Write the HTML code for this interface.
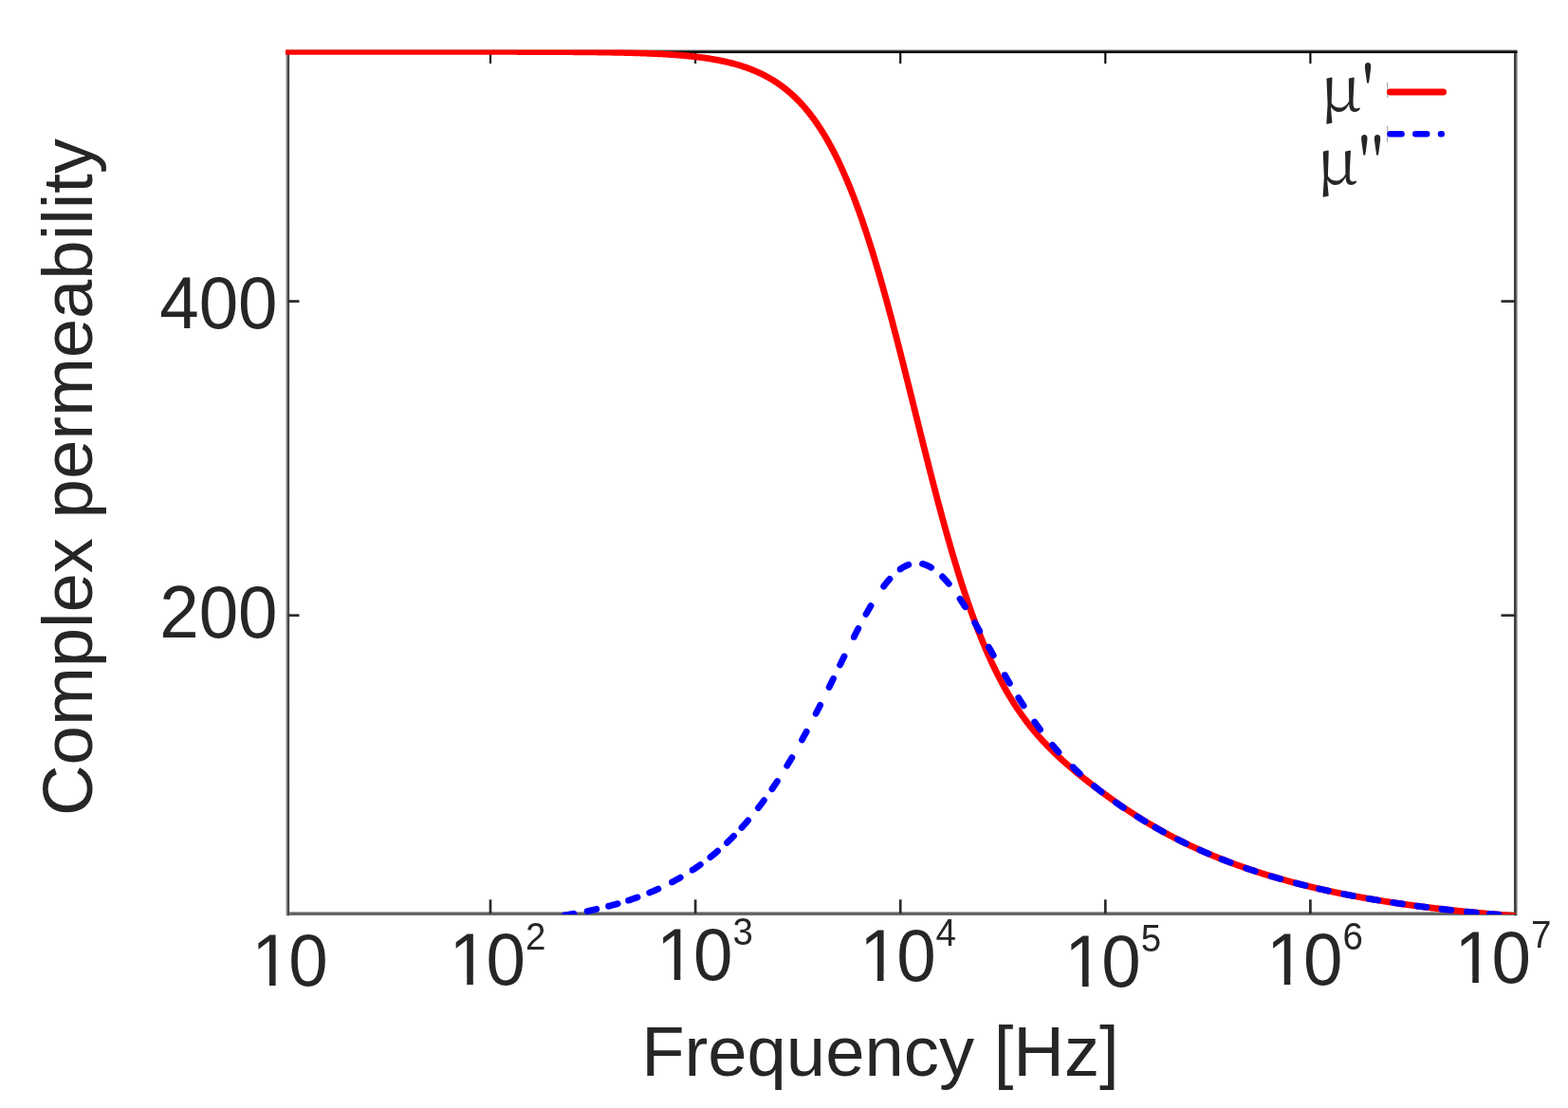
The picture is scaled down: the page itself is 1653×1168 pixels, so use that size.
<!DOCTYPE html>
<html><head><meta charset="utf-8"><title>Complex permeability vs frequency</title>
<style>
html,body{margin:0;padding:0;background:#fff;overflow:hidden;width:1653px;height:1168px;}
svg{display:block;}
</style></head>
<body>
<svg width="1653" height="1168" viewBox="0 0 1653 1168">
<rect x="0" y="0" width="1653" height="1168" fill="#fff"/>
<defs><clipPath id="cp"><rect x="301" y="52.4" width="1298" height="911.6"/></clipPath></defs>
<!-- axes box -->
<defs>
<linearGradient id="gl" x1="0" y1="0" x2="1" y2="0"><stop offset="0" stop-color="#f2f2f2"/><stop offset="0.2" stop-color="#c4c4c4"/><stop offset="0.38" stop-color="#8a8a8a"/><stop offset="0.52" stop-color="#5a5a5a"/><stop offset="0.68" stop-color="#444"/><stop offset="0.9" stop-color="#424242"/><stop offset="1" stop-color="#b0b0b0"/></linearGradient>
<linearGradient id="gr" x1="0" y1="0" x2="1" y2="0"><stop offset="0" stop-color="#d0d0d0"/><stop offset="0.1" stop-color="#555"/><stop offset="0.2" stop-color="#333"/><stop offset="0.35" stop-color="#333"/><stop offset="0.5" stop-color="#575757"/><stop offset="0.68" stop-color="#707070"/><stop offset="0.82" stop-color="#a0a0a0"/><stop offset="1" stop-color="#f0f0f0"/></linearGradient>
<linearGradient id="gb" x1="0" y1="0" x2="0" y2="1"><stop offset="0" stop-color="#f0f0f0"/><stop offset="0.15" stop-color="#ababab"/><stop offset="0.35" stop-color="#6a6a6a"/><stop offset="0.5" stop-color="#585858"/><stop offset="0.7" stop-color="#5e5e5e"/><stop offset="0.85" stop-color="#7a7a7a"/><stop offset="1" stop-color="#eeeeee"/></linearGradient>
<linearGradient id="gt" x1="0" y1="0" x2="0" y2="1"><stop offset="0" stop-color="#f0f0f0"/><stop offset="0.2" stop-color="#c0c0c0"/><stop offset="0.4" stop-color="#505050"/><stop offset="0.52" stop-color="#0a0a0a"/><stop offset="0.88" stop-color="#0a0a0a"/><stop offset="1" stop-color="#707070"/></linearGradient>
</defs>
<rect x="302.2" y="960.7" width="1296.5" height="4.6" fill="url(#gb)"/>
<rect x="300.7" y="53.2" width="4.6" height="912.1" fill="url(#gl)"/>
<rect x="1595.8" y="53.2" width="4.3" height="912.1" fill="url(#gr)"/>
<rect x="301.5" y="51.6" width="1298" height="4.6" fill="url(#gt)"/>
<g stroke="#2a2a2a" stroke-width="2.7" fill="none">
<line x1="517.0" y1="963" x2="517.0" y2="948.3" />
<line x1="517.0" y1="55" x2="517.0" y2="67" stroke="#050505" stroke-width="2.1"/>
<line x1="733.1" y1="963" x2="733.1" y2="948.3" />
<line x1="733.1" y1="55" x2="733.1" y2="67" stroke="#050505" stroke-width="2.1"/>
<line x1="949.2" y1="963" x2="949.2" y2="948.3" />
<line x1="949.2" y1="55" x2="949.2" y2="67" stroke="#050505" stroke-width="2.1"/>
<line x1="1165.3" y1="963" x2="1165.3" y2="948.3" />
<line x1="1165.3" y1="55" x2="1165.3" y2="67" stroke="#050505" stroke-width="2.1"/>
<line x1="1381.4" y1="963" x2="1381.4" y2="948.3" />
<line x1="1381.4" y1="55" x2="1381.4" y2="67" stroke="#050505" stroke-width="2.1"/>
<line x1="303.5" y1="317.6" x2="315.5" y2="317.6" />
<line x1="1597.5" y1="317.6" x2="1582.5" y2="317.6" />
<line x1="303.5" y1="648.7" x2="315.5" y2="648.7" />
<line x1="1597.5" y1="648.7" x2="1582.5" y2="648.7" />
</g>
<!-- data -->
<g clip-path="url(#cp)" fill="none" stroke-linejoin="round">
<path d="M300.90,54.38 L301.76,54.38 L302.63,54.38 L303.49,54.38 L304.36,54.38 L305.22,54.38 L306.09,54.38 L306.95,54.38 L307.82,54.38 L308.68,54.38 L309.55,54.38 L310.41,54.38 L311.28,54.38 L312.14,54.38 L313.01,54.38 L313.87,54.38 L314.74,54.38 L315.60,54.38 L316.47,54.38 L317.33,54.38 L318.20,54.38 L319.06,54.38 L319.93,54.38 L320.79,54.38 L321.66,54.38 L322.52,54.38 L323.39,54.38 L324.25,54.38 L325.12,54.38 L325.98,54.38 L326.85,54.38 L327.71,54.38 L328.58,54.38 L329.44,54.38 L330.31,54.38 L331.17,54.38 L332.04,54.38 L332.90,54.38 L333.77,54.38 L334.63,54.38 L335.50,54.38 L336.36,54.38 L337.23,54.38 L338.09,54.38 L338.96,54.38 L339.82,54.38 L340.69,54.38 L341.55,54.38 L342.42,54.38 L343.28,54.38 L344.15,54.38 L345.01,54.38 L345.88,54.38 L346.74,54.38 L347.61,54.38 L348.47,54.38 L349.34,54.38 L350.20,54.38 L351.07,54.38 L351.93,54.38 L352.80,54.38 L353.66,54.38 L354.53,54.38 L355.39,54.38 L356.26,54.38 L357.12,54.38 L357.99,54.38 L358.85,54.38 L359.72,54.38 L360.58,54.38 L361.45,54.38 L362.31,54.38 L363.18,54.38 L364.04,54.38 L364.91,54.38 L365.77,54.38 L366.64,54.38 L367.50,54.38 L368.37,54.38 L369.23,54.38 L370.10,54.38 L370.96,54.38 L371.83,54.38 L372.69,54.38 L373.56,54.38 L374.42,54.38 L375.29,54.38 L376.15,54.38 L377.02,54.38 L377.88,54.38 L378.75,54.38 L379.61,54.38 L380.48,54.38 L381.34,54.38 L382.21,54.38 L383.07,54.38 L383.94,54.38 L384.80,54.38 L385.67,54.38 L386.53,54.38 L387.40,54.38 L388.26,54.38 L389.13,54.38 L389.99,54.38 L390.86,54.38 L391.72,54.38 L392.59,54.38 L393.45,54.38 L394.32,54.38 L395.18,54.38 L396.05,54.38 L396.91,54.38 L397.78,54.38 L398.64,54.38 L399.51,54.38 L400.37,54.38 L401.24,54.38 L402.10,54.38 L402.97,54.38 L403.83,54.38 L404.70,54.38 L405.56,54.38 L406.43,54.38 L407.29,54.38 L408.16,54.38 L409.02,54.38 L409.89,54.38 L410.75,54.38 L411.62,54.38 L412.48,54.38 L413.35,54.38 L414.21,54.38 L415.08,54.38 L415.94,54.38 L416.81,54.38 L417.67,54.38 L418.54,54.38 L419.40,54.38 L420.27,54.38 L421.13,54.38 L422.00,54.38 L422.86,54.38 L423.73,54.38 L424.59,54.38 L425.46,54.38 L426.32,54.38 L427.19,54.38 L428.05,54.38 L428.92,54.38 L429.78,54.38 L430.65,54.38 L431.51,54.38 L432.38,54.38 L433.24,54.38 L434.11,54.38 L434.97,54.39 L435.84,54.39 L436.70,54.39 L437.57,54.39 L438.43,54.39 L439.30,54.39 L440.16,54.39 L441.03,54.39 L441.89,54.39 L442.76,54.39 L443.62,54.39 L444.49,54.39 L445.35,54.39 L446.22,54.39 L447.08,54.39 L447.95,54.39 L448.81,54.39 L449.68,54.39 L450.54,54.39 L451.41,54.39 L452.27,54.39 L453.14,54.39 L454.00,54.39 L454.87,54.39 L455.73,54.39 L456.60,54.39 L457.46,54.39 L458.33,54.39 L459.19,54.39 L460.06,54.39 L460.92,54.39 L461.79,54.39 L462.65,54.39 L463.52,54.39 L464.38,54.39 L465.25,54.39 L466.11,54.39 L466.98,54.39 L467.84,54.39 L468.71,54.40 L469.57,54.40 L470.44,54.40 L471.30,54.40 L472.17,54.40 L473.03,54.40 L473.90,54.40 L474.76,54.40 L475.63,54.40 L476.49,54.40 L477.36,54.40 L478.22,54.40 L479.09,54.40 L479.95,54.40 L480.82,54.40 L481.68,54.40 L482.55,54.40 L483.41,54.40 L484.28,54.40 L485.14,54.40 L486.01,54.40 L486.87,54.40 L487.73,54.40 L488.60,54.41 L489.46,54.41 L490.33,54.41 L491.19,54.41 L492.06,54.41 L492.92,54.41 L493.79,54.41 L494.65,54.41 L495.52,54.41 L496.38,54.41 L497.25,54.41 L498.11,54.41 L498.98,54.41 L499.84,54.41 L500.71,54.41 L501.57,54.42 L502.44,54.42 L503.30,54.42 L504.17,54.42 L505.03,54.42 L505.90,54.42 L506.76,54.42 L507.63,54.42 L508.49,54.42 L509.36,54.42 L510.22,54.42 L511.09,54.42 L511.95,54.42 L512.82,54.43 L513.68,54.43 L514.55,54.43 L515.41,54.43 L516.28,54.43 L517.14,54.43 L518.01,54.43 L518.87,54.43 L519.74,54.43 L520.60,54.43 L521.47,54.44 L522.33,54.44 L523.20,54.44 L524.06,54.44 L524.93,54.44 L525.79,54.44 L526.66,54.44 L527.52,54.44 L528.39,54.45 L529.25,54.45 L530.12,54.45 L530.98,54.45 L531.85,54.45 L532.71,54.45 L533.58,54.45 L534.44,54.46 L535.31,54.46 L536.17,54.46 L537.04,54.46 L537.90,54.46 L538.77,54.46 L539.63,54.46 L540.50,54.47 L541.36,54.47 L542.23,54.47 L543.09,54.47 L543.96,54.47 L544.82,54.47 L545.69,54.48 L546.55,54.48 L547.42,54.48 L548.28,54.48 L549.15,54.48 L550.01,54.49 L550.88,54.49 L551.74,54.49 L552.61,54.49 L553.47,54.50 L554.34,54.50 L555.20,54.50 L556.07,54.50 L556.93,54.50 L557.80,54.51 L558.66,54.51 L559.53,54.51 L560.39,54.51 L561.26,54.52 L562.12,54.52 L562.99,54.52 L563.85,54.52 L564.72,54.53 L565.58,54.53 L566.45,54.53 L567.31,54.54 L568.18,54.54 L569.04,54.54 L569.91,54.55 L570.77,54.55 L571.64,54.55 L572.50,54.55 L573.37,54.56 L574.23,54.56 L575.10,54.57 L575.96,54.57 L576.83,54.57 L577.69,54.58 L578.56,54.58 L579.42,54.58 L580.29,54.59 L581.15,54.59 L582.02,54.60 L582.88,54.60 L583.75,54.60 L584.61,54.61 L585.48,54.61 L586.34,54.62 L587.21,54.62 L588.07,54.63 L588.94,54.63 L589.80,54.63 L590.67,54.64 L591.53,54.64 L592.40,54.65 L593.26,54.65 L594.13,54.66 L594.99,54.67 L595.86,54.67 L596.72,54.68 L597.59,54.68 L598.45,54.69 L599.32,54.69 L600.18,54.70 L601.05,54.70 L601.91,54.71 L602.78,54.72 L603.64,54.72 L604.51,54.73 L605.37,54.74 L606.24,54.74 L607.10,54.75 L607.97,54.76 L608.83,54.76 L609.70,54.77 L610.56,54.78 L611.43,54.79 L612.29,54.79 L613.16,54.80 L614.02,54.81 L614.89,54.82 L615.75,54.83 L616.62,54.83 L617.48,54.84 L618.35,54.85 L619.21,54.86 L620.08,54.87 L620.94,54.88 L621.81,54.89 L622.67,54.90 L623.54,54.91 L624.40,54.92 L625.27,54.93 L626.13,54.94 L627.00,54.95 L627.86,54.96 L628.73,54.97 L629.59,54.98 L630.46,54.99 L631.32,55.00 L632.19,55.02 L633.05,55.03 L633.92,55.04 L634.78,55.05 L635.65,55.06 L636.51,55.08 L637.38,55.09 L638.24,55.10 L639.11,55.12 L639.97,55.13 L640.84,55.14 L641.70,55.16 L642.57,55.17 L643.43,55.19 L644.30,55.20 L645.16,55.22 L646.03,55.23 L646.89,55.25 L647.76,55.27 L648.62,55.28 L649.49,55.30 L650.35,55.32 L651.22,55.33 L652.08,55.35 L652.95,55.37 L653.81,55.39 L654.68,55.41 L655.54,55.43 L656.41,55.45 L657.27,55.47 L658.14,55.49 L659.00,55.51 L659.87,55.53 L660.73,55.55 L661.60,55.57 L662.46,55.59 L663.33,55.62 L664.19,55.64 L665.06,55.66 L665.92,55.69 L666.79,55.71 L667.65,55.74 L668.52,55.76 L669.38,55.79 L670.25,55.81 L671.11,55.84 L671.97,55.87 L672.84,55.89 L673.70,55.92 L674.57,55.95 L675.43,55.98 L676.30,56.01 L677.16,56.04 L678.03,56.07 L678.89,56.10 L679.76,56.14 L680.62,56.17 L681.49,56.20 L682.35,56.24 L683.22,56.27 L684.08,56.30 L684.95,56.34 L685.81,56.38 L686.68,56.41 L687.54,56.45 L688.41,56.49 L689.27,56.53 L690.14,56.57 L691.00,56.61 L691.87,56.65 L692.73,56.69 L693.60,56.74 L694.46,56.78 L695.33,56.83 L696.19,56.87 L697.06,56.92 L697.92,56.96 L698.79,57.01 L699.65,57.06 L700.52,57.11 L701.38,57.16 L702.25,57.21 L703.11,57.27 L703.98,57.32 L704.84,57.37 L705.71,57.43 L706.57,57.49 L707.44,57.54 L708.30,57.60 L709.17,57.66 L710.03,57.72 L710.90,57.79 L711.76,57.85 L712.63,57.91 L713.49,57.98 L714.36,58.05 L715.22,58.11 L716.09,58.18 L716.95,58.25 L717.82,58.32 L718.68,58.40 L719.55,58.47 L720.41,58.55 L721.28,58.62 L722.14,58.70 L723.01,58.78 L723.87,58.86 L724.74,58.95 L725.60,59.03 L726.47,59.12 L727.33,59.21 L728.20,59.30 L729.06,59.39 L729.93,59.48 L730.79,59.57 L731.66,59.67 L732.52,59.77 L733.39,59.87 L734.25,59.97 L735.12,60.07 L735.98,60.18 L736.85,60.28 L737.71,60.39 L738.58,60.50 L739.44,60.62 L740.31,60.73 L741.17,60.85 L742.04,60.97 L742.90,61.09 L743.77,61.21 L744.63,61.34 L745.50,61.47 L746.36,61.60 L747.23,61.73 L748.09,61.87 L748.96,62.01 L749.82,62.15 L750.69,62.29 L751.55,62.43 L752.42,62.58 L753.28,62.73 L754.15,62.89 L755.01,63.04 L755.88,63.20 L756.74,63.37 L757.61,63.53 L758.47,63.70 L759.34,63.87 L760.20,64.04 L761.07,64.22 L761.93,64.40 L762.80,64.59 L763.66,64.77 L764.53,64.97 L765.39,65.16 L766.26,65.36 L767.12,65.56 L767.99,65.76 L768.85,65.97 L769.72,66.18 L770.58,66.40 L771.45,66.62 L772.31,66.84 L773.18,67.07 L774.04,67.30 L774.91,67.54 L775.77,67.78 L776.64,68.03 L777.50,68.28 L778.37,68.53 L779.23,68.79 L780.10,69.05 L780.96,69.32 L781.83,69.59 L782.69,69.87 L783.56,70.15 L784.42,70.44 L785.29,70.73 L786.15,71.03 L787.02,71.33 L787.88,71.64 L788.75,71.95 L789.61,72.27 L790.48,72.60 L791.34,72.93 L792.21,73.26 L793.07,73.61 L793.94,73.95 L794.80,74.31 L795.67,74.67 L796.53,75.04 L797.40,75.41 L798.26,75.79 L799.13,76.18 L799.99,76.57 L800.86,76.97 L801.72,77.38 L802.59,77.79 L803.45,78.22 L804.32,78.64 L805.18,79.08 L806.05,79.53 L806.91,79.98 L807.78,80.44 L808.64,80.90 L809.51,81.38 L810.37,81.86 L811.24,82.36 L812.10,82.86 L812.97,83.37 L813.83,83.89 L814.70,84.41 L815.56,84.95 L816.43,85.49 L817.29,86.05 L818.16,86.61 L819.02,87.19 L819.89,87.77 L820.75,88.36 L821.62,88.97 L822.48,89.58 L823.35,90.20 L824.21,90.84 L825.08,91.48 L825.94,92.14 L826.81,92.80 L827.67,93.48 L828.54,94.17 L829.40,94.87 L830.27,95.58 L831.13,96.31 L832.00,97.04 L832.86,97.79 L833.73,98.55 L834.59,99.32 L835.46,100.11 L836.32,100.91 L837.19,101.72 L838.05,102.54 L838.92,103.38 L839.78,104.23 L840.65,105.10 L841.51,105.98 L842.38,106.87 L843.24,107.78 L844.11,108.70 L844.97,109.64 L845.84,110.59 L846.70,111.55 L847.57,112.53 L848.43,113.53 L849.30,114.54 L850.16,115.57 L851.03,116.62 L851.89,117.68 L852.76,118.75 L853.62,119.85 L854.49,120.96 L855.35,122.08 L856.22,123.23 L857.08,124.39 L857.94,125.57 L858.81,126.77 L859.67,127.98 L860.54,129.22 L861.40,130.47 L862.27,131.74 L863.13,133.03 L864.00,134.33 L864.86,135.66 L865.73,137.01 L866.59,138.37 L867.46,139.76 L868.32,141.16 L869.19,142.59 L870.05,144.03 L870.92,145.50 L871.78,146.99 L872.65,148.49 L873.51,150.02 L874.38,151.57 L875.24,153.14 L876.11,154.74 L876.97,156.35 L877.84,157.99 L878.70,159.64 L879.57,161.32 L880.43,163.03 L881.30,164.75 L882.16,166.50 L883.03,168.27 L883.89,170.06 L884.76,171.88 L885.62,173.72 L886.49,175.58 L887.35,177.47 L888.22,179.38 L889.08,181.31 L889.95,183.27 L890.81,185.25 L891.68,187.25 L892.54,189.28 L893.41,191.33 L894.27,193.41 L895.14,195.51 L896.00,197.64 L896.87,199.79 L897.73,201.96 L898.60,204.16 L899.46,206.39 L900.33,208.64 L901.19,210.91 L902.06,213.21 L902.92,215.53 L903.79,217.88 L904.65,220.25 L905.52,222.64 L906.38,225.07 L907.25,227.51 L908.11,229.98 L908.98,232.47 L909.84,234.99 L910.71,237.54 L911.57,240.10 L912.44,242.69 L913.30,245.31 L914.17,247.95 L915.03,250.61 L915.90,253.30 L916.76,256.01 L917.63,258.74 L918.49,261.50 L919.36,264.28 L920.22,267.08 L921.09,269.90 L921.95,272.75 L922.82,275.62 L923.68,278.51 L924.55,281.42 L925.41,284.36 L926.28,287.31 L927.14,290.29 L928.01,293.29 L928.87,296.30 L929.74,299.34 L930.60,302.40 L931.47,305.47 L932.33,308.57 L933.20,311.68 L934.06,314.81 L934.93,317.96 L935.79,321.13 L936.66,324.32 L937.52,327.52 L938.39,330.74 L939.25,333.97 L940.12,337.22 L940.98,340.48 L941.85,343.76 L942.71,347.05 L943.58,350.36 L944.44,353.68 L945.31,357.01 L946.17,360.36 L947.04,363.71 L947.90,367.08 L948.77,370.46 L949.63,373.85 L950.50,377.24 L951.36,380.65 L952.23,384.07 L953.09,387.49 L953.96,390.92 L954.82,394.36 L955.69,397.80 L956.55,401.25 L957.42,404.71 L958.28,408.17 L959.15,411.63 L960.01,415.10 L960.88,418.57 L961.74,422.04 L962.61,425.52 L963.47,428.99 L964.34,432.47 L965.20,435.95 L966.07,439.42 L966.93,442.90 L967.80,446.37 L968.66,449.84 L969.53,453.31 L970.39,456.77 L971.26,460.23 L972.12,463.69 L972.99,467.14 L973.85,470.58 L974.72,474.02 L975.58,477.45 L976.45,480.88 L977.31,484.29 L978.18,487.70 L979.04,491.10 L979.91,494.49 L980.77,497.87 L981.64,501.24 L982.50,504.60 L983.37,507.95 L984.23,511.28 L985.10,514.60 L985.96,517.91 L986.83,521.21 L987.69,524.49 L988.56,527.76 L989.42,531.01 L990.29,534.25 L991.15,537.47 L992.02,540.68 L992.88,543.87 L993.75,547.04 L994.61,550.19 L995.48,553.33 L996.34,556.45 L997.21,559.56 L998.07,562.64 L998.94,565.71 L999.80,568.75 L1000.67,571.78 L1001.53,574.78 L1002.40,577.77 L1003.26,580.74 L1004.13,583.68 L1004.99,586.61 L1005.86,589.51 L1006.72,592.40 L1007.59,595.26 L1008.45,598.10 L1009.32,600.91 L1010.18,603.71 L1011.05,606.48 L1011.91,609.24 L1012.78,611.96 L1013.64,614.67 L1014.51,617.35 L1015.37,620.02 L1016.24,622.65 L1017.10,625.27 L1017.97,627.86 L1018.83,630.43 L1019.70,632.97 L1020.56,635.50 L1021.43,637.99 L1022.29,640.47 L1023.16,642.92 L1024.02,645.35 L1024.89,647.76 L1025.75,650.14 L1026.62,652.50 L1027.48,654.83 L1028.35,657.14 L1029.21,659.43 L1030.08,661.70 L1030.94,663.94 L1031.81,666.16 L1032.67,668.36 L1033.54,670.53 L1034.40,672.68 L1035.27,674.81 L1036.13,676.91 L1037.00,678.99 L1037.86,681.05 L1038.73,683.09 L1039.59,685.11 L1040.46,687.10 L1041.32,689.07 L1042.18,691.02 L1043.05,692.95 L1043.91,694.85 L1044.78,696.74 L1045.64,698.60 L1046.51,700.44 L1047.37,702.27 L1048.24,704.07 L1049.10,705.85 L1049.97,707.61 L1050.83,709.35 L1051.70,711.07 L1052.56,712.77 L1053.43,714.45 L1054.29,716.11 L1055.16,717.75 L1056.02,719.37 L1056.89,720.97 L1057.75,722.56 L1058.62,724.13 L1059.48,725.67 L1060.35,727.21 L1061.21,728.72 L1062.08,730.21 L1062.94,731.69 L1063.81,733.15 L1064.67,734.59 L1065.54,736.02 L1066.40,737.43 L1067.27,738.83 L1068.13,740.20 L1069.00,741.57 L1069.86,742.91 L1070.73,744.24 L1071.59,745.56 L1072.46,746.86 L1073.32,748.15 L1074.19,749.42 L1075.05,750.68 L1075.92,751.92 L1076.78,753.15 L1077.65,754.36 L1078.51,755.57 L1079.38,756.76 L1080.24,757.93 L1081.11,759.09 L1081.97,760.25 L1082.84,761.38 L1083.70,762.51 L1084.57,763.62 L1085.43,764.73 L1086.30,765.82 L1087.16,766.90 L1088.03,767.97 L1088.89,769.02 L1089.76,770.07 L1090.62,771.11 L1091.49,772.13 L1092.35,773.15 L1093.22,774.16 L1094.08,775.15 L1094.95,776.14 L1095.81,777.12 L1096.68,778.08 L1097.54,779.04 L1098.41,780.00 L1099.27,780.94 L1100.14,781.87 L1101.00,782.80 L1101.87,783.71 L1102.73,784.62 L1103.60,785.52 L1104.46,786.42 L1105.33,787.31 L1106.19,788.19 L1107.06,789.06 L1107.92,789.92 L1108.79,790.78 L1109.65,791.63 L1110.52,792.48 L1111.38,793.32 L1112.25,794.15 L1113.11,794.98 L1113.98,795.80 L1114.84,796.62 L1115.71,797.43 L1116.57,798.23 L1117.44,799.03 L1118.30,799.83 L1119.17,800.61 L1120.03,801.40 L1120.90,802.18 L1121.76,802.95 L1122.63,803.72 L1123.49,804.49 L1124.36,805.25 L1125.22,806.01 L1126.09,806.76 L1126.95,807.51 L1127.82,808.25 L1128.68,808.99 L1129.55,809.73 L1130.41,810.46 L1131.28,811.19 L1132.14,811.92 L1133.01,812.64 L1133.87,813.36 L1134.74,814.08 L1135.60,814.79 L1136.47,815.50 L1137.33,816.20 L1138.20,816.91 L1139.06,817.61 L1139.93,818.31 L1140.79,819.00 L1141.66,819.69 L1142.52,820.38 L1143.39,821.07 L1144.25,821.75 L1145.12,822.44 L1145.98,823.11 L1146.85,823.79 L1147.71,824.47 L1148.58,825.14 L1149.44,825.81 L1150.31,826.47 L1151.17,827.14 L1152.04,827.80 L1152.90,828.46 L1153.77,829.12 L1154.63,829.78 L1155.50,830.43 L1156.36,831.08 L1157.23,831.73 L1158.09,832.38 L1158.96,833.03 L1159.82,833.67 L1160.69,834.31 L1161.55,834.95 L1162.42,835.59 L1163.28,836.22 L1164.15,836.86 L1165.01,837.49 L1165.88,838.12 L1166.74,838.75 L1167.61,839.37 L1168.47,839.99 L1169.34,840.62 L1170.20,841.24 L1171.07,841.85 L1171.93,842.47 L1172.80,843.08 L1173.66,843.69 L1174.53,844.30 L1175.39,844.91 L1176.26,845.52 L1177.12,846.12 L1177.99,846.72 L1178.85,847.32 L1179.72,847.92 L1180.58,848.51 L1181.45,849.11 L1182.31,849.70 L1183.18,850.29 L1184.04,850.87 L1184.91,851.46 L1185.77,852.04 L1186.64,852.62 L1187.50,853.20 L1188.37,853.78 L1189.23,854.35 L1190.10,854.92 L1190.96,855.49 L1191.83,856.06 L1192.69,856.63 L1193.56,857.19 L1194.42,857.75 L1195.29,858.31 L1196.15,858.87 L1197.02,859.42 L1197.88,859.97 L1198.75,860.52 L1199.61,861.07 L1200.48,861.62 L1201.34,862.16 L1202.21,862.70 L1203.07,863.24 L1203.94,863.78 L1204.80,864.31 L1205.67,864.84 L1206.53,865.37 L1207.40,865.90 L1208.26,866.43 L1209.13,866.95 L1209.99,867.47 L1210.86,867.99 L1211.72,868.50 L1212.59,869.02 L1213.45,869.53 L1214.32,870.04 L1215.18,870.54 L1216.05,871.05 L1216.91,871.55 L1217.78,872.05 L1218.64,872.55 L1219.51,873.04 L1220.37,873.54 L1221.24,874.03 L1222.10,874.52 L1222.97,875.00 L1223.83,875.49 L1224.70,875.97 L1225.56,876.45 L1226.43,876.92 L1227.29,877.40 L1228.15,877.87 L1229.02,878.34 L1229.88,878.81 L1230.75,879.28 L1231.61,879.74 L1232.48,880.20 L1233.34,880.66 L1234.21,881.12 L1235.07,881.57 L1235.94,882.03 L1236.80,882.48 L1237.67,882.93 L1238.53,883.37 L1239.40,883.82 L1240.26,884.26 L1241.13,884.70 L1241.99,885.14 L1242.86,885.57 L1243.72,886.01 L1244.59,886.44 L1245.45,886.87 L1246.32,887.30 L1247.18,887.72 L1248.05,888.15 L1248.91,888.57 L1249.78,888.99 L1250.64,889.41 L1251.51,889.82 L1252.37,890.24 L1253.24,890.65 L1254.10,891.06 L1254.97,891.47 L1255.83,891.87 L1256.70,892.28 L1257.56,892.68 L1258.43,893.08 L1259.29,893.48 L1260.16,893.88 L1261.02,894.27 L1261.89,894.67 L1262.75,895.06 L1263.62,895.45 L1264.48,895.83 L1265.35,896.22 L1266.21,896.60 L1267.08,896.99 L1267.94,897.37 L1268.81,897.75 L1269.67,898.12 L1270.54,898.50 L1271.40,898.87 L1272.27,899.25 L1273.13,899.62 L1274.00,899.98 L1274.86,900.35 L1275.73,900.72 L1276.59,901.08 L1277.46,901.44 L1278.32,901.80 L1279.19,902.16 L1280.05,902.52 L1280.92,902.87 L1281.78,903.23 L1282.65,903.58 L1283.51,903.93 L1284.38,904.28 L1285.24,904.62 L1286.11,904.97 L1286.97,905.31 L1287.84,905.66 L1288.70,906.00 L1289.57,906.34 L1290.43,906.67 L1291.30,907.01 L1292.16,907.34 L1293.03,907.68 L1293.89,908.01 L1294.76,908.34 L1295.62,908.67 L1296.49,908.99 L1297.35,909.32 L1298.22,909.64 L1299.08,909.97 L1299.95,910.29 L1300.81,910.61 L1301.68,910.93 L1302.54,911.24 L1303.41,911.56 L1304.27,911.87 L1305.14,912.18 L1306.00,912.49 L1306.87,912.80 L1307.73,913.11 L1308.60,913.42 L1309.46,913.72 L1310.33,914.03 L1311.19,914.33 L1312.06,914.63 L1312.92,914.93 L1313.79,915.23 L1314.65,915.53 L1315.52,915.82 L1316.38,916.12 L1317.25,916.41 L1318.11,916.70 L1318.98,916.99 L1319.84,917.28 L1320.71,917.57 L1321.57,917.85 L1322.44,918.14 L1323.30,918.42 L1324.17,918.70 L1325.03,918.98 L1325.90,919.26 L1326.76,919.54 L1327.63,919.82 L1328.49,920.09 L1329.36,920.37 L1330.22,920.64 L1331.09,920.91 L1331.95,921.18 L1332.82,921.45 L1333.68,921.72 L1334.55,921.99 L1335.41,922.26 L1336.28,922.52 L1337.14,922.78 L1338.01,923.05 L1338.87,923.31 L1339.74,923.57 L1340.60,923.82 L1341.47,924.08 L1342.33,924.34 L1343.20,924.59 L1344.06,924.85 L1344.93,925.10 L1345.79,925.35 L1346.66,925.60 L1347.52,925.85 L1348.39,926.10 L1349.25,926.35 L1350.12,926.59 L1350.98,926.84 L1351.85,927.08 L1352.71,927.32 L1353.58,927.56 L1354.44,927.80 L1355.31,928.04 L1356.17,928.28 L1357.04,928.52 L1357.90,928.75 L1358.77,928.99 L1359.63,929.22 L1360.50,929.45 L1361.36,929.69 L1362.23,929.92 L1363.09,930.15 L1363.96,930.37 L1364.82,930.60 L1365.69,930.83 L1366.55,931.05 L1367.42,931.28 L1368.28,931.50 L1369.15,931.72 L1370.01,931.94 L1370.88,932.16 L1371.74,932.38 L1372.61,932.60 L1373.47,932.82 L1374.34,933.03 L1375.20,933.25 L1376.07,933.46 L1376.93,933.67 L1377.80,933.89 L1378.66,934.10 L1379.53,934.31 L1380.39,934.52 L1381.26,934.73 L1382.12,934.93 L1382.99,935.14 L1383.85,935.34 L1384.72,935.55 L1385.58,935.75 L1386.45,935.95 L1387.31,936.16 L1388.18,936.36 L1389.04,936.56 L1389.91,936.76 L1390.77,936.95 L1391.64,937.15 L1392.50,937.35 L1393.37,937.54 L1394.23,937.74 L1395.10,937.93 L1395.96,938.12 L1396.83,938.31 L1397.69,938.50 L1398.56,938.69 L1399.42,938.88 L1400.29,939.07 L1401.15,939.26 L1402.02,939.44 L1402.88,939.63 L1403.75,939.81 L1404.61,940.00 L1405.48,940.18 L1406.34,940.36 L1407.21,940.55 L1408.07,940.73 L1408.94,940.91 L1409.80,941.08 L1410.67,941.26 L1411.53,941.44 L1412.39,941.62 L1413.26,941.79 L1414.12,941.97 L1414.99,942.14 L1415.85,942.31 L1416.72,942.49 L1417.58,942.66 L1418.45,942.83 L1419.31,943.00 L1420.18,943.17 L1421.04,943.34 L1421.91,943.50 L1422.77,943.67 L1423.64,943.84 L1424.50,944.00 L1425.37,944.17 L1426.23,944.33 L1427.10,944.49 L1427.96,944.66 L1428.83,944.82 L1429.69,944.98 L1430.56,945.14 L1431.42,945.30 L1432.29,945.46 L1433.15,945.61 L1434.02,945.77 L1434.88,945.93 L1435.75,946.08 L1436.61,946.24 L1437.48,946.39 L1438.34,946.55 L1439.21,946.70 L1440.07,946.85 L1440.94,947.00 L1441.80,947.15 L1442.67,947.30 L1443.53,947.45 L1444.40,947.60 L1445.26,947.75 L1446.13,947.90 L1446.99,948.04 L1447.86,948.19 L1448.72,948.33 L1449.59,948.48 L1450.45,948.62 L1451.32,948.77 L1452.18,948.91 L1453.05,949.05 L1453.91,949.19 L1454.78,949.33 L1455.64,949.47 L1456.51,949.61 L1457.37,949.75 L1458.24,949.89 L1459.10,950.03 L1459.97,950.16 L1460.83,950.30 L1461.70,950.44 L1462.56,950.57 L1463.43,950.71 L1464.29,950.84 L1465.16,950.97 L1466.02,951.11 L1466.89,951.24 L1467.75,951.37 L1468.62,951.50 L1469.48,951.63 L1470.35,951.76 L1471.21,951.89 L1472.08,952.02 L1472.94,952.14 L1473.81,952.27 L1474.67,952.40 L1475.54,952.52 L1476.40,952.65 L1477.27,952.77 L1478.13,952.90 L1479.00,953.02 L1479.86,953.14 L1480.73,953.27 L1481.59,953.39 L1482.46,953.51 L1483.32,953.63 L1484.19,953.75 L1485.05,953.87 L1485.92,953.99 L1486.78,954.11 L1487.65,954.23 L1488.51,954.35 L1489.38,954.46 L1490.24,954.58 L1491.11,954.69 L1491.97,954.81 L1492.84,954.93 L1493.70,955.04 L1494.57,955.15 L1495.43,955.27 L1496.30,955.38 L1497.16,955.49 L1498.03,955.60 L1498.89,955.71 L1499.76,955.83 L1500.62,955.94 L1501.49,956.05 L1502.35,956.15 L1503.22,956.26 L1504.08,956.37 L1504.95,956.48 L1505.81,956.59 L1506.68,956.69 L1507.54,956.80 L1508.41,956.91 L1509.27,957.01 L1510.14,957.12 L1511.00,957.22 L1511.87,957.32 L1512.73,957.43 L1513.60,957.53 L1514.46,957.63 L1515.33,957.73 L1516.19,957.84 L1517.06,957.94 L1517.92,958.04 L1518.79,958.14 L1519.65,958.24 L1520.52,958.34 L1521.38,958.43 L1522.25,958.53 L1523.11,958.63 L1523.98,958.73 L1524.84,958.82 L1525.71,958.92 L1526.57,959.02 L1527.44,959.11 L1528.30,959.21 L1529.17,959.30 L1530.03,959.40 L1530.90,959.49 L1531.76,959.58 L1532.63,959.68 L1533.49,959.77 L1534.36,959.86 L1535.22,959.95 L1536.09,960.04 L1536.95,960.13 L1537.82,960.23 L1538.68,960.32 L1539.55,960.40 L1540.41,960.49 L1541.28,960.58 L1542.14,960.67 L1543.01,960.76 L1543.87,960.85 L1544.74,960.93 L1545.60,961.02 L1546.47,961.11 L1547.33,961.19 L1548.20,961.28 L1549.06,961.36 L1549.93,961.45 L1550.79,961.53 L1551.66,961.62 L1552.52,961.70 L1553.39,961.78 L1554.25,961.87 L1555.12,961.95 L1555.98,962.03 L1556.85,962.11 L1557.71,962.19 L1558.58,962.27 L1559.44,962.36 L1560.31,962.44 L1561.17,962.52 L1562.04,962.59 L1562.90,962.67 L1563.77,962.75 L1564.63,962.83 L1565.50,962.91 L1566.36,962.99 L1567.23,963.06 L1568.09,963.14 L1568.96,963.22 L1569.82,963.29 L1570.69,963.37 L1571.55,963.45 L1572.42,963.52 L1573.28,963.60 L1574.15,963.67 L1575.01,963.74 L1575.88,963.82 L1576.74,963.89 L1577.61,963.96 L1578.47,964.04 L1579.34,964.11 L1580.20,964.18 L1581.07,964.25 L1581.93,964.33 L1582.80,964.40 L1583.66,964.47 L1584.53,964.54 L1585.39,964.61 L1586.26,964.68 L1587.12,964.75 L1587.99,964.82 L1588.85,964.89 L1589.72,964.95 L1590.58,965.02 L1591.45,965.09 L1592.31,965.16 L1593.18,965.23 L1594.04,965.29 L1594.91,965.36 L1595.77,965.43 L1596.64,965.49 L1597.50,965.56" stroke="#ff0000" stroke-width="6.8"/>
<path d="M595.07,964.85 L595.08,964.84 L595.77,964.73 L596.47,964.62 L597.17,964.51 L597.86,964.39 L598.56,964.28 L599.26,964.16 L599.95,964.05 L600.65,963.93 L601.35,963.81 L602.04,963.69 L602.74,963.57 L603.44,963.45 L604.13,963.33 L604.83,963.21 L604.93,963.19 M619.01,960.51 L619.01,960.51 L619.71,960.36 L620.40,960.22 L621.10,960.07 L621.80,959.92 L622.49,959.78 L623.19,959.63 L623.89,959.48 L624.58,959.33 L625.28,959.17 L625.98,959.02 L626.67,958.87 L627.37,958.71 L628.07,958.55 L628.76,958.40 L628.78,958.39 M641.57,955.27 L641.58,955.27 L642.28,955.09 L642.97,954.90 L643.67,954.72 L644.37,954.53 L645.06,954.34 L645.76,954.15 L646.46,953.96 L647.15,953.77 L647.85,953.58 L648.55,953.38 L649.24,953.19 L649.94,952.99 L650.64,952.79 L651.21,952.62 M662.56,949.14 L662.57,949.14 L663.27,948.91 L663.96,948.68 L664.66,948.45 L665.36,948.22 L666.05,947.98 L666.75,947.75 L667.45,947.51 L668.14,947.27 L668.84,947.03 L669.54,946.78 L670.23,946.54 L670.93,946.29 L671.63,946.04 L672.02,945.90 M684.69,941.03 L684.71,941.02 L685.40,940.73 L686.10,940.44 L686.80,940.15 L687.49,939.86 L688.19,939.56 L688.89,939.26 L689.58,938.96 L690.28,938.66 L690.98,938.36 L691.67,938.05 L692.37,937.74 L693.07,937.43 L693.76,937.11 L693.87,937.06 M708.50,929.91 L708.51,929.91 L709.21,929.54 L709.91,929.17 L710.60,928.79 L711.30,928.42 L712.00,928.04 L712.69,927.65 L713.39,927.27 L714.09,926.88 L714.78,926.49 L715.48,926.10 L716.18,925.70 L716.87,925.30 L717.25,925.08 M730.05,917.19 L730.06,917.19 L730.76,916.73 L731.45,916.26 L732.15,915.80 L732.85,915.33 L733.54,914.85 L734.24,914.37 L734.94,913.89 L735.63,913.41 L736.33,912.92 L737.03,912.43 L737.72,911.94 L738.29,911.53 M748.82,903.58 L748.83,903.57 L749.53,903.01 L750.23,902.45 L750.92,901.89 L751.62,901.32 L752.32,900.75 L753.01,900.17 L753.71,899.59 L754.41,899.01 L755.10,898.42 L755.80,897.83 L756.50,897.23 L756.52,897.21 M766.40,888.30 L766.41,888.29 L767.11,887.63 L767.80,886.96 L768.50,886.29 L769.20,885.61 L769.89,884.93 L770.59,884.25 L771.29,883.56 L771.98,882.86 L772.68,882.17 L773.38,881.46 L773.54,881.30 M781.96,872.40 L781.98,872.38 L782.68,871.62 L783.37,870.84 L784.07,870.06 L784.77,869.28 L785.46,868.49 L786.16,867.70 L786.86,866.90 L787.55,866.10 L788.25,865.29 L788.58,864.90 M799.36,851.68 L799.36,851.68 L800.06,850.78 L800.75,849.87 L801.45,848.96 L802.15,848.05 L802.84,847.13 L803.54,846.20 L804.24,845.27 L804.93,844.33 L805.39,843.71 M813.89,831.77 L813.90,831.75 L814.60,830.73 L815.30,829.71 L815.99,828.68 L816.69,827.65 L817.39,826.61 L818.08,825.56 L818.78,824.51 L819.47,823.47 M829.77,807.17 L829.77,807.17 L830.47,806.02 L831.16,804.87 L831.86,803.71 L832.56,802.54 L833.25,801.38 L833.95,800.20 L834.65,799.02 L834.90,798.59 M845.45,780.01 L845.46,779.99 L846.16,778.72 L846.86,777.45 L847.55,776.17 L848.25,774.89 L848.95,773.60 L849.64,772.30 L850.22,771.22 M860.13,752.30 L860.13,752.30 L860.83,750.94 L861.52,749.57 L862.22,748.20 L862.92,746.83 L863.61,745.45 L864.31,744.07 L864.66,743.38 M874.10,724.40 L874.10,724.40 L874.79,722.98 L875.49,721.56 L876.19,720.14 L876.88,718.72 L877.58,717.30 L878.28,715.88 L878.50,715.42 M885.60,700.89 L885.61,700.88 L886.31,699.45 L887.00,698.03 L887.70,696.61 L888.40,695.19 L889.09,693.77 L889.79,692.35 L890.00,691.92 M900.22,671.46 L900.22,671.45 L900.92,670.09 L901.62,668.73 L902.31,667.37 L903.01,666.02 L903.71,664.68 L904.40,663.34 L904.80,662.57 M913.03,647.34 L913.04,647.32 L913.74,646.08 L914.44,644.85 L915.13,643.63 L915.83,642.42 L916.53,641.22 L917.22,640.03 L917.92,638.85 L918.02,638.67 M931.62,618.05 L931.63,618.04 L932.32,617.12 L933.02,616.22 L933.72,615.33 L934.41,614.46 L935.11,613.60 L935.81,612.76 L936.50,611.94 L937.20,611.13 L937.90,610.34 L937.94,610.29 M948.98,600.07 L948.99,600.07 L949.69,599.57 L950.38,599.10 L951.08,598.65 L951.78,598.22 L952.47,597.80 L953.17,597.41 L953.87,597.04 L954.56,596.68 L955.26,596.34 L955.96,596.03 L956.65,595.73 L957.35,595.46 L957.74,595.31 M972.47,594.40 L972.47,594.40 L973.17,594.57 L973.86,594.77 L974.56,594.99 L975.26,595.22 L975.95,595.48 L976.65,595.75 L977.35,596.05 L978.04,596.36 L978.74,596.69 L979.44,597.04 L980.13,597.41 L980.83,597.80 L981.53,598.20 L981.64,598.27 M993.58,607.98 L993.60,608.00 L994.29,608.71 L994.99,609.44 L995.69,610.19 L996.38,610.95 L997.08,611.72 L997.78,612.51 L998.47,613.31 L999.17,614.13 L999.87,614.96 L1000.26,615.43 M1012.04,631.40 L1012.06,631.43 L1012.75,632.47 L1013.45,633.52 L1014.15,634.58 L1014.84,635.64 L1015.54,636.72 L1016.24,637.80 L1016.93,638.89 L1017.50,639.78 M1027.68,656.53 L1027.68,656.53 L1028.38,657.72 L1029.07,658.91 L1029.77,660.11 L1030.47,661.31 L1031.16,662.51 L1031.86,663.71 L1032.56,664.92 L1032.70,665.18 M1042.33,682.08 L1042.35,682.09 L1043.04,683.32 L1043.74,684.55 L1044.44,685.78 L1045.13,687.01 L1045.83,688.24 L1046.53,689.47 L1047.22,690.69 L1047.27,690.77 M1059.27,711.64 L1059.27,711.65 L1059.97,712.84 L1060.67,714.03 L1061.36,715.21 L1062.06,716.39 L1062.76,717.57 L1063.45,718.74 L1064.15,719.90 L1064.36,720.25 M1073.72,735.53 L1073.73,735.55 L1074.43,736.65 L1075.12,737.75 L1075.82,738.84 L1076.52,739.93 L1077.21,741.02 L1077.91,742.10 L1078.61,743.17 L1079.11,743.95 M1090.68,760.96 L1090.69,760.98 L1091.39,761.96 L1092.09,762.93 L1092.78,763.89 L1093.48,764.85 L1094.18,765.81 L1094.87,766.75 L1095.57,767.70 L1096.27,768.63 L1096.57,769.04 M1109.46,785.34 L1109.47,785.35 L1110.17,786.18 L1110.86,787.00 L1111.56,787.82 L1112.26,788.63 L1112.95,789.44 L1113.65,790.24 L1114.35,791.04 L1115.04,791.83 L1115.74,792.62 L1116.00,792.91 M1131.10,808.73 L1131.10,808.74 L1131.80,809.42 L1132.50,810.09 L1133.19,810.76 L1133.89,811.43 L1134.59,812.09 L1135.28,812.75 L1135.98,813.40 L1136.68,814.05 L1137.37,814.70 L1138.07,815.34 L1138.36,815.61 M1153.40,828.59 L1153.41,828.60 L1154.11,829.17 L1154.81,829.73 L1155.50,830.29 L1156.20,830.85 L1156.90,831.40 L1157.59,831.95 L1158.29,832.50 L1158.99,833.05 L1159.68,833.59 L1160.38,834.13 L1161.08,834.67 L1161.24,834.80 M1176.19,845.78 L1176.19,845.78 L1176.89,846.27 L1177.59,846.76 L1178.28,847.24 L1178.98,847.73 L1179.68,848.21 L1180.37,848.69 L1181.07,849.16 L1181.77,849.64 L1182.46,850.11 L1183.16,850.59 L1183.86,851.06 L1184.44,851.45 M1198.85,860.79 L1198.85,860.79 L1199.55,861.23 L1200.25,861.66 L1200.94,862.10 L1201.64,862.53 L1202.34,862.96 L1203.03,863.38 L1203.73,863.81 L1204.43,864.24 L1205.12,864.66 L1205.82,865.08 L1206.52,865.50 L1207.21,865.92 L1207.37,866.02 M1217.85,872.15 L1217.86,872.16 L1218.55,872.55 L1219.25,872.95 L1219.95,873.34 L1220.64,873.74 L1221.34,874.13 L1222.04,874.52 L1222.73,874.91 L1223.43,875.29 L1224.13,875.68 L1224.82,876.06 L1225.52,876.45 L1226.22,876.83 L1226.58,877.03 M1241.33,884.79 L1241.33,884.80 L1242.03,885.15 L1242.73,885.50 L1243.42,885.85 L1244.12,886.20 L1244.82,886.54 L1245.51,886.89 L1246.21,887.23 L1246.91,887.58 L1247.60,887.92 L1248.30,888.26 L1249.00,888.60 L1249.69,888.94 L1250.29,889.23 M1264.83,895.98 L1264.83,895.98 L1265.53,896.29 L1266.22,896.60 L1266.92,896.91 L1267.62,897.22 L1268.31,897.53 L1269.01,897.83 L1269.71,898.13 L1270.40,898.44 L1271.10,898.74 L1271.80,899.04 L1272.49,899.34 L1273.19,899.64 L1273.89,899.93 L1273.99,899.98 M1287.84,905.66 L1287.85,905.66 L1288.55,905.94 L1289.25,906.21 L1289.94,906.48 L1290.64,906.76 L1291.34,907.03 L1292.03,907.30 L1292.73,907.56 L1293.43,907.83 L1294.12,908.10 L1294.82,908.36 L1295.52,908.63 L1296.21,908.89 L1296.91,909.15 L1297.17,909.25 M1313.77,915.22 L1313.77,915.22 L1314.47,915.46 L1315.16,915.70 L1315.86,915.94 L1316.56,916.17 L1317.25,916.41 L1317.95,916.65 L1318.65,916.88 L1319.34,917.11 L1320.04,917.34 L1320.74,917.58 L1321.43,917.81 L1322.13,918.04 L1322.83,918.27 L1323.25,918.40 M1340.20,923.71 L1340.21,923.71 L1340.91,923.92 L1341.60,924.12 L1342.30,924.33 L1343.00,924.53 L1343.69,924.74 L1344.39,924.94 L1345.09,925.15 L1345.78,925.35 L1346.48,925.55 L1347.18,925.75 L1347.87,925.95 L1348.57,926.15 L1349.27,926.35 L1349.81,926.50 M1366.36,931.00 L1366.37,931.00 L1367.07,931.19 L1367.76,931.37 L1368.46,931.55 L1369.16,931.72 L1369.85,931.90 L1370.55,932.08 L1371.25,932.26 L1371.94,932.43 L1372.64,932.61 L1373.34,932.78 L1374.03,932.96 L1374.73,933.13 L1375.43,933.30 L1376.05,933.46 M1390.62,936.92 L1390.63,936.92 L1391.33,937.08 L1392.03,937.24 L1392.72,937.40 L1393.42,937.55 L1394.12,937.71 L1394.81,937.87 L1395.51,938.02 L1396.21,938.18 L1396.90,938.33 L1397.60,938.48 L1398.30,938.64 L1398.99,938.79 L1399.69,938.94 L1400.38,939.09 M1416.59,942.46 L1416.60,942.46 L1417.30,942.60 L1417.99,942.74 L1418.69,942.88 L1419.39,943.01 L1420.08,943.15 L1420.78,943.28 L1421.48,943.42 L1422.17,943.55 L1422.87,943.69 L1423.57,943.82 L1424.26,943.96 L1424.96,944.09 L1425.66,944.22 L1426.35,944.35 L1426.41,944.36 M1442.87,947.34 L1442.88,947.34 L1443.58,947.46 L1444.28,947.58 L1444.97,947.70 L1445.67,947.82 L1446.37,947.94 L1447.06,948.06 L1447.76,948.17 L1448.46,948.29 L1449.15,948.41 L1449.85,948.52 L1450.55,948.64 L1451.24,948.75 L1451.94,948.87 L1452.64,948.98 L1452.73,949.00 M1468.45,951.47 L1468.47,951.48 L1469.17,951.58 L1469.86,951.69 L1470.56,951.79 L1471.26,951.89 L1471.95,952.00 L1472.65,952.10 L1473.35,952.20 L1474.04,952.31 L1474.74,952.41 L1475.44,952.51 L1476.13,952.61 L1476.83,952.71 L1477.53,952.81 L1478.22,952.91 L1478.35,952.93 M1493.84,955.06 L1493.84,955.06 L1494.54,955.15 L1495.24,955.24 L1495.94,955.33 L1496.63,955.42 L1497.33,955.51 L1498.03,955.60 L1498.72,955.69 L1499.42,955.78 L1500.12,955.87 L1500.81,955.96 L1501.51,956.05 L1502.21,956.14 L1502.90,956.22 L1503.60,956.31 L1503.76,956.33 M1519.83,958.26 L1519.85,958.26 L1520.55,958.34 L1521.24,958.42 L1521.94,958.50 L1522.64,958.58 L1523.33,958.66 L1524.03,958.73 L1524.73,958.81 L1525.42,958.89 L1526.12,958.97 L1526.82,959.04 L1527.51,959.12 L1528.21,959.20 L1528.91,959.27 L1529.60,959.35 L1529.77,959.37 M1546.32,961.09 L1546.34,961.09 L1547.04,961.16 L1547.73,961.23 L1548.43,961.30 L1549.13,961.37 L1549.82,961.44 L1550.52,961.51 L1551.22,961.57 L1551.91,961.64 L1552.61,961.71 L1553.31,961.78 L1554.00,961.84 L1554.70,961.91 L1555.40,961.98 L1556.09,962.04 L1556.28,962.06 M1570.22,963.33 L1570.24,963.33 L1570.93,963.39 L1571.63,963.45 L1572.33,963.51 L1573.02,963.57 L1573.72,963.63 L1574.42,963.69 L1575.11,963.75 L1575.81,963.81 L1576.51,963.87 L1577.20,963.93 L1577.90,963.99 L1578.60,964.05 L1579.29,964.11 L1579.99,964.16 L1580.18,964.18" stroke="#0000ff" stroke-width="6.8" stroke-linecap="round"/>
</g>
<!-- tick labels and axis labels -->
<g font-family='"Liberation Sans", sans-serif' font-size="74.5" fill="#262626">
<text transform="translate(292.5,346.4) scale(1,1.04)" text-anchor="end">400</text>
<text transform="translate(292.5,671.8) scale(1,1.04)" text-anchor="end">200</text>
<text transform="translate(262.8,1039.4) scale(1,1.04)"><tspan dx="2.5">1</tspan><tspan dx="-2.5">0</tspan></text>
<text transform="translate(471.0,1037.6) scale(1,1.04)"><tspan dx="2.5">1</tspan><tspan dx="-2.5">0</tspan><tspan font-size="38.5" dy="-35.5">2</tspan></text>
<text transform="translate(689.5,1032.9) scale(1,1.04)"><tspan dx="2.5">1</tspan><tspan dx="-2.5">0</tspan><tspan font-size="38.5" dy="-35.5">3</tspan></text>
<text transform="translate(903.7,1034.1) scale(1,1.04)"><tspan dx="2.5">1</tspan><tspan dx="-2.5">0</tspan><tspan font-size="38.5" dy="-35.5">4</tspan></text>
<text transform="translate(1119.8,1039.9) scale(1,1.04)"><tspan dx="2.5">1</tspan><tspan dx="-2.5">0</tspan><tspan font-size="38.5" dy="-35.5">5</tspan></text>
<text transform="translate(1332.5,1037.6) scale(1,1.04)"><tspan dx="2.5">1</tspan><tspan dx="-2.5">0</tspan><tspan font-size="38.5" dy="-35.5">6</tspan></text>
<text transform="translate(1531.0,1035.6) scale(1,1.04)"><tspan dx="2.5">1</tspan><tspan dx="-2.5">0</tspan><tspan font-size="38.5" dy="-35.5">7</tspan></text>
<text transform="translate(676.2,1133.5)" font-size="74.25">Frequency [Hz]</text>
<text transform="translate(97,860) rotate(-90)" font-size="74.25">Complex permeability</text>
</g>
<g fill="#fff">
<rect x="269.77" y="1032.71" width="14.26" height="7.89"/>
<rect x="290.62" y="1032.71" width="13.68" height="7.89"/>
<rect x="477.97" y="1030.91" width="14.26" height="7.89"/>
<rect x="498.82" y="1030.91" width="13.68" height="7.89"/>
<rect x="696.47" y="1026.21" width="14.26" height="7.89"/>
<rect x="717.32" y="1026.21" width="13.68" height="7.89"/>
<rect x="910.67" y="1027.41" width="14.26" height="7.89"/>
<rect x="931.52" y="1027.41" width="13.68" height="7.89"/>
<rect x="1126.77" y="1033.21" width="14.26" height="7.89"/>
<rect x="1147.62" y="1033.21" width="13.68" height="7.89"/>
<rect x="1339.47" y="1030.91" width="14.26" height="7.89"/>
<rect x="1360.32" y="1030.91" width="13.68" height="7.89"/>
<rect x="1537.97" y="1028.91" width="14.26" height="7.89"/>
<rect x="1558.82" y="1028.91" width="13.68" height="7.89"/>
</g>
<!-- legend -->
<g fill="#262626" font-family='"Noto Serif CJK SC", "Liberation Serif", serif' font-size="66">
<text transform="translate(1391.5,116.5) scale(1.06,1)">&#956;<tspan dy="2.8">'</tspan></text>
<text transform="translate(1387.8,193.6) scale(1.06,1)">&#956;<tspan dy="1.2">''</tspan></text>
</g>
<line x1="1462.7" y1="86.8" x2="1462.7" y2="102.9" stroke="#999" stroke-width="1"/>
<line x1="1462.7" y1="132.7" x2="1462.7" y2="149.9" stroke="#999" stroke-width="1"/>
<line x1="1465.5" y1="97" x2="1521.5" y2="97" stroke="#ff0000" stroke-width="7" stroke-linecap="round"/>
<line x1="1465.55" y1="141.3" x2="1519.75" y2="141.3" stroke="#0000ff" stroke-width="6.5" stroke-linecap="round" stroke-dasharray="12 14.7"/>
</svg>
</body></html>
